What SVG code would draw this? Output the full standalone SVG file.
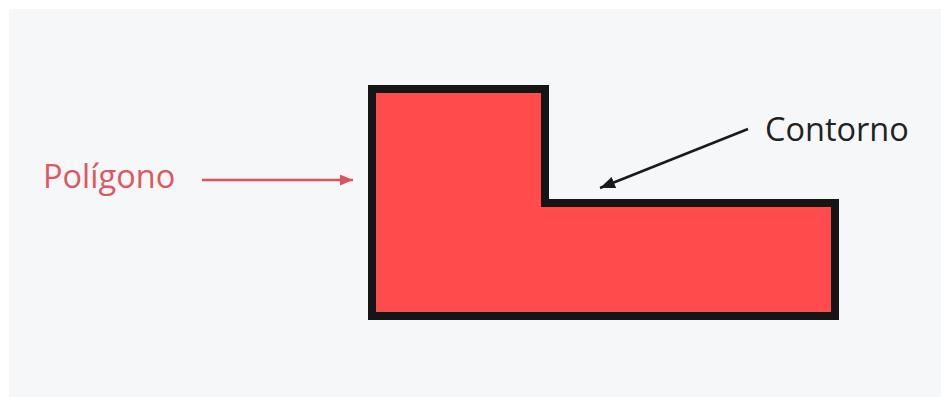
<svg xmlns="http://www.w3.org/2000/svg" width="941" height="397" viewBox="0 0 941 397">
  <defs>
    <style>
      .lbl { font-family: "Open Sans", "Noto Sans", sans-serif; font-size: 32.5px; }
    </style>
    <marker id="redHead" markerWidth="13" markerHeight="11" refX="13" refY="5.5" orient="auto" markerUnits="userSpaceOnUse">
      <path d="M0,0 L13,5.5 L0,11 Z" fill="#e0525a"/>
    </marker>
    <marker id="blackHead" markerWidth="15" markerHeight="12" refX="15" refY="6" orient="auto" markerUnits="userSpaceOnUse">
      <path d="M0,0 L15,6 L0,12 Z" fill="#1a1a1a"/>
    </marker>
  </defs>
  <rect x="0" y="0" width="941" height="397" fill="#ffffff"/>
  <rect x="9" y="9" width="932" height="388" fill="#f6f7f9"/>
  <g id="poligono">
    <path d="M372,89 L545,89 L545,203 L835,203 L835,316 L372,316 Z" fill="#ff4b4b" stroke="#151515" stroke-width="8" stroke-linejoin="miter"/>
  </g>
  <g id="label-poligono">
    <text class="lbl" x="43" y="188" fill="#e0575f">Polígono</text>
  </g>
  <g id="label-contorno">
    <text class="lbl" x="765" y="141" fill="#222222">Contorno</text>
  </g>
  <g id="connectors">
    <line x1="202" y1="180" x2="353" y2="180" stroke="#e0525a" stroke-width="2.5" marker-end="url(#redHead)"/>
    <line x1="748" y1="129" x2="600" y2="188" stroke="#1a1a1a" stroke-width="2.5" marker-end="url(#blackHead)"/>
  </g>
</svg>
